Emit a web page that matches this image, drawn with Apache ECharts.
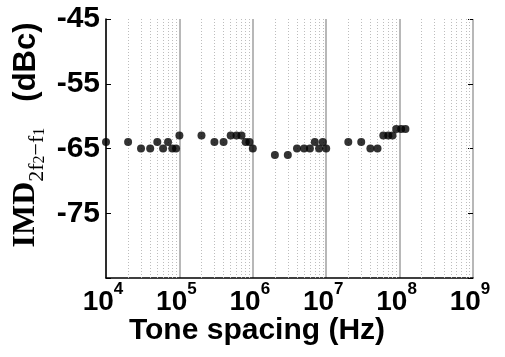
<!DOCTYPE html>
<html><head><meta charset="utf-8">
<script src="https://cdn.jsdelivr.net/npm/echarts@6/dist/echarts.min.js"></script>
<style>html,body{margin:0;padding:0;background:#fff}#c{width:505px;height:357px}</style>
</head><body><div id="c"></div>
<script>
// Data
const toneSpacing = [1e4,2e4,3e4,4e4,5e4,6e4,7e4,8e4,9e4,1e5,
  2e5,3e5,4e5,5e5,6e5,7e5,8e5,9e5,1e6,
  2e6,3e6,4e6,5e6,6e6,7e6,8e6,9e6,1e7,
  2e7,3e7,4e7,5e7,6e7,7e7,8e7,9e7,1.05e8,1.2e8];
const imdValues = [-64,-64,-65,-65,-64,-65,-64,-65,-65,-63,
  -63,-64,-64,-63,-63,-63,-64,-64,-65,
  -66,-66,-65,-65,-65,-64,-65,-64,-65,
  -64,-64,-65,-65,-63,-63,-63,-62,-62,-62];
const yTicks = [-45,-55,-65,-75];
const xDecades = [4,5,6,7,8,9];
const minorMultipliers = [2,3,4,5,6,7,8,9];

const minorLines = [];
for (let k = 4; k < 9; k++) for (const m of minorMultipliers) minorLines.push({xAxis: m * Math.pow(10, k)});

const chart = echarts.init(document.getElementById('c'), null, {renderer: 'canvas'});
const sans = 'Liberation Sans, Arial, sans-serif';
const serif = 'Liberation Serif, Times New Roman, serif';
chart.setOption({
  animation: false,
  backgroundColor: '#fff',
  grid: {left: 106, right: 32, top: 19, bottom: 79},
  xAxis: {
    type: 'log', logBase: 10, min: 1e4, max: 1e9,
    axisLine: {show: true, lineStyle: {color: '#000', width: 1.5}},
    axisTick: {show: false},
    splitLine: {show: true, lineStyle: {color: '#a0a0a0', width: 1.5}},
    axisLabel: {
      margin: 3, color: '#000',
      formatter: v => { const e = Math.round(Math.log10(v)); return '{b|10}{s|' + e + '}'; },
      rich: {
        b: {fontFamily: sans, fontWeight: 'bold', fontSize: 28, lineHeight: 35, verticalAlign: 'bottom', color: '#000'},
        s: {fontFamily: sans, fontWeight: 'bold', fontSize: 17, lineHeight: 22, verticalAlign: 'top', color: '#000', padding: [0, 6, 0, 0]}
      }
    }
  },
  yAxis: [{
    type: 'value', min: -85, max: -45, interval: 10,
    axisLine: {show: true, lineStyle: {color: '#000', width: 1.5}},
    axisTick: {show: true, inside: true, length: 5, lineStyle: {color: '#000'}},
    splitLine: {show: false},
    axisLabel: {
      margin: 6, color: '#000', fontFamily: sans, fontWeight: 'bold', fontSize: 30,
      formatter: v => yTicks.includes(v) ? String(v) : ''
    }
  }, {
    type: 'value', min: -85, max: -45, interval: 10, position: 'right',
    axisLine: {show: false},
    axisTick: {show: true, inside: true, length: 5, lineStyle: {color: '#000'}},
    splitLine: {show: false},
    axisLabel: {show: false}
  }],
  graphic: [
    {type: 'text', x: 257, y: 331, style: {text: 'Tone spacing (Hz)', fontFamily: sans, fontWeight: 'bold', fontSize: 30, fill: '#000', align: 'center', verticalAlign: 'middle'}},
    {type: 'text', x: 26, y: 135, rotation: Math.PI / 2, style: {
      text: '{imd|IMD}{s1|2f}{s2|2}{s1|\u2212f}{s2|1}{gap| }{dbc|(dBc)}',
      align: 'center', verticalAlign: 'middle', fill: '#000',
      rich: {
        imd: {fontFamily: serif, fontWeight: 'bold', fontSize: 32, lineHeight: 44, verticalAlign: 'middle'},
        s1: {fontFamily: serif, fontSize: 22, lineHeight: 24, verticalAlign: 'bottom'},
        s2: {fontFamily: serif, fontSize: 16, lineHeight: 12, verticalAlign: 'bottom'},
        gap: {fontSize: 30, width: 26},
        dbc: {fontFamily: sans, fontWeight: 'bold', fontSize: 31, lineHeight: 44, verticalAlign: 'middle'}
      }
    }}
  ],
  series: [{
    type: 'scatter', yAxisIndex: 0,
    data: toneSpacing.map((x, i) => [x, imdValues[i]]),
    symbol: 'circle', symbolSize: 8,
    itemStyle: {color: '#000'},
    z: 5,
    markLine: {
      silent: true, symbol: ['none', 'none'], label: {show: false},
      lineStyle: {color: '#bdbdbd', type: [1, 2], width: 1},
      data: minorLines
    }
  }]
});
</script></body></html>
